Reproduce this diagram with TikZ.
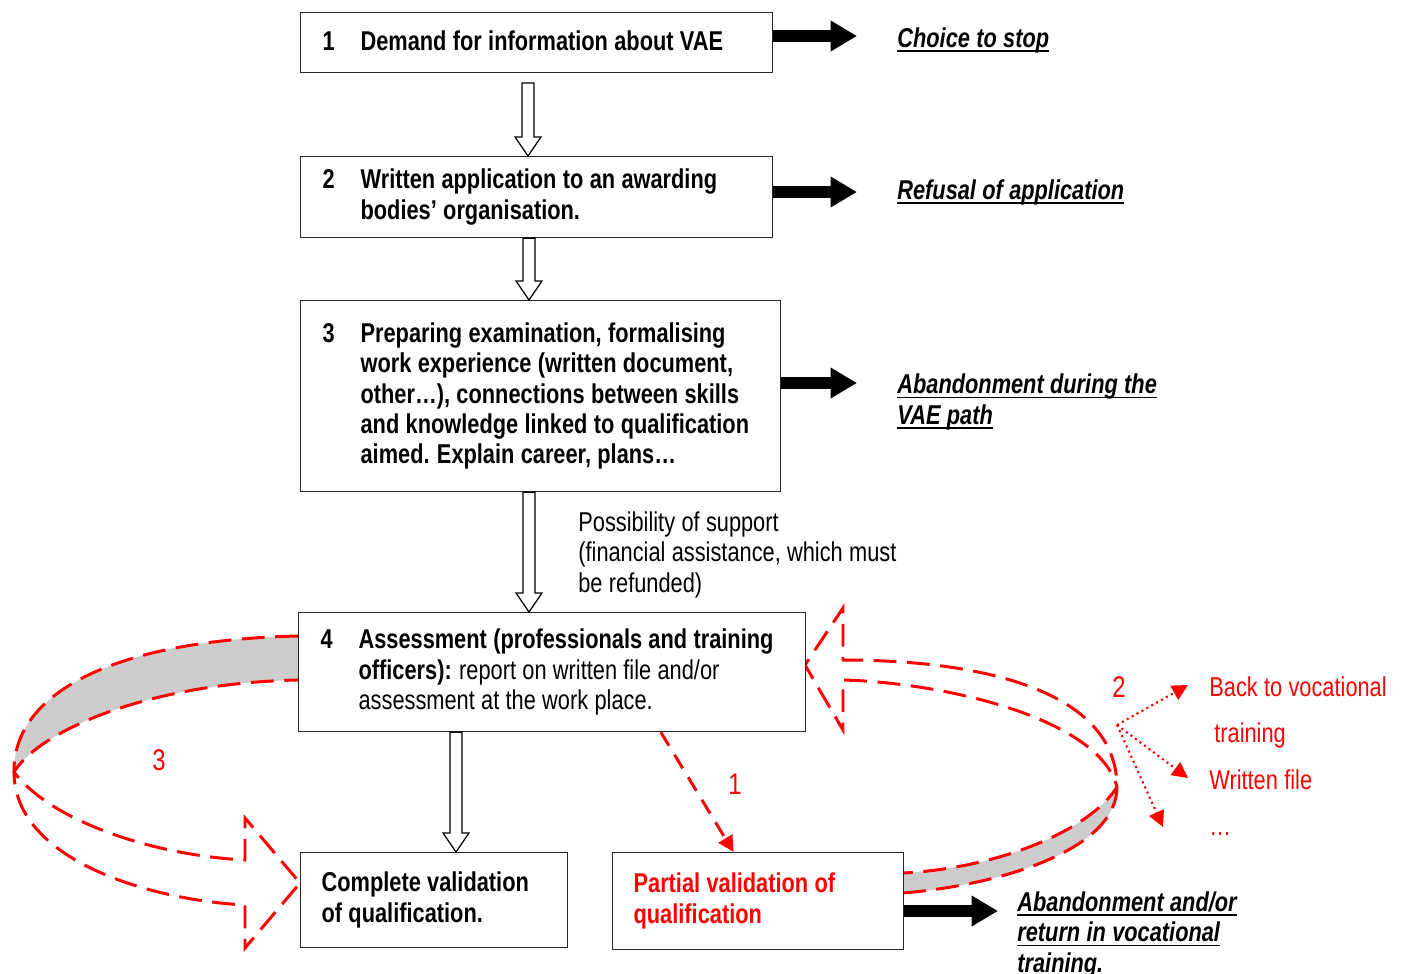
\documentclass[tikz,border=0pt]{standalone}
\usepackage{fontspec}
\setmainfont{Liberation Sans}[FakeStretch=0.8]
\newfontfamily\stepfont{Liberation Sans Bold}[FakeStretch=0.8]
\newfontfamily\outfont{Liberation Sans Bold Italic}[FakeStretch=0.8]
\usetikzlibrary{arrows.meta,calc}

\newcommand{\bodyfont}{\fontsize{15.5}{17.3}\selectfont\spaceskip=3.6pt\relax}
\newsavebox{\ulbox}
\newcommand{\ulabel}[1]{\sbox{\ulbox}{#1}\rlap{\rule[-2.6pt]{\wd\ulbox}{0.9pt}}\usebox{\ulbox}}
\newcommand{\steptext}[2]{\makebox[0.76cm][l]{#1}\parbox[t]{\dimexpr\linewidth-0.76cm\relax}{\spaceskip=3.6pt\xspaceskip=4.2pt\relax #2}}
% hollow block arrow pointing down, from #1 (top) to #2 (tip)
\newcommand{\hollowdown}[2]{\draw[hollow] ($(#1)+(-6,0)$) -- ($(#2)+(-6,-19)$) -- ($(#2)+(-13,-19)$) -- (#2) -- ($(#2)+(13,-19)$) -- ($(#2)+(6,-19)$) -- ($(#1)+(6,0)$) -- cycle;}

\begin{document}
\begin{tikzpicture}[x=0.02cm, y=-0.02cm,
	font=\bodyfont,
	stepbox/.style={draw=black!85, line width=0.7pt, fill=white, anchor=north west, inner xsep=0.44cm, inner ysep=0pt},
	outcome/.style={anchor=base west, align=left, inner sep=0pt, font=\bodyfont\outfont},
	redtext/.style={text=red, anchor=base west, inner sep=0pt},
	bignum/.style={text=red, font=\fontsize{17}{20}\selectfont},
	quitarrow/.style={line width=6.8pt, -{Triangle[length=15pt,width=16.5pt]}},
	hollow/.style={draw=black, line width=0.7pt, fill=white},
	loopband/.style={draw=red, line width=1.7pt, dash pattern=on 13pt off 6pt},
	loopfill/.style={fill=black!20},
	redarrow/.style={draw=red, line width=1.7pt, dash pattern=on 9pt off 6pt, -{Triangle[length=9pt,width=9pt]}},
	dotarrow/.style={draw=red, line width=1.2pt, dotted, -{Triangle[length=9pt,width=9pt]}}]
	\useasboundingbox (0,0) rectangle (1401,974);

	% loop 3: back to assessment, then complete validation
	\fill[loopfill] (298,636) .. controls (120,640) and (13,690) .. (14,772) .. controls (40,730) and (150,683) .. (298,680) -- cycle;
	\draw[loopband] (298,636) .. controls (120,640) and (13,690) .. (14,772) .. controls (14,860) and (150,900) .. (245,905) -- (245,948) -- (300,883) -- (245,818) -- (245,860) .. controls (150,855) and (50,820) .. (14,772) .. controls (40,730) and (150,683) .. (298,680);
	% loop 2: from partial validation back to assessment
	\fill[loopfill] (903,893) .. controls (1000,885) and (1117,850) .. (1117,787) .. controls (1090,830) and (1000,868) .. (903,873) -- cycle;
	\draw[loopband] (903,893) .. controls (1000,885) and (1117,850) .. (1117,787) .. controls (1117,690) and (980,660) .. (843,660) -- (843,608) -- (805,665) -- (843,730) -- (843,680) .. controls (950,683) and (1100,720) .. (1117,787) .. controls (1090,830) and (1000,868) .. (903,873);

	% steps
	\node[stepbox, minimum height=1.2cm, text width=8.56cm, font=\bodyfont\stepfont] (box1) at (300,12) {\raisebox{2pt}{\steptext{1}{Demand for information about VAE}}};
	\node[stepbox, minimum height=1.62cm, text width=8.56cm, font=\bodyfont\stepfont] (box2) at (300,156) {\steptext{2}{Written application to an awarding\\bodies’ organisation.}};
	\node[stepbox, minimum height=3.82cm, text width=8.72cm, font=\bodyfont\stepfont] (box3) at (300,300) {\raisebox{3pt}{\steptext{3}{Preparing examination, formalising\\work experience (written document,\\other…), connections between skills\\and knowledge linked to qualification\\aimed. Explain career, plans…}}};
	\node[stepbox, minimum height=2.38cm, text width=9.26cm] (box4) at (298,612) {\steptext{\stepfont 4}{{\stepfont Assessment (professionals and training\\officers):} report on written file and/or\\assessment at the work place.}};
	\node[stepbox, minimum height=1.9cm, text width=4.5cm, inner xsep=0.42cm, font=\bodyfont\stepfont] (complete) at (300,852) {\spaceskip=3.6pt\relax Complete validation\\of qualification.};
	\node[stepbox, minimum height=1.94cm, text width=4.98cm, inner xsep=0.42cm, text=red, font=\bodyfont\stepfont] (part) at (612,852) {\spaceskip=3.6pt\relax Partial validation of\\qualification};

	% hollow arrows
	\coordinate (s12) at (528,83);
	\coordinate (t12) at (s12 |- box2.north);
	\hollowdown{s12}{t12}
	\coordinate (s23) at (box2.south -| 529,0);
	\coordinate (t23) at (s23 |- box3.north);
	\hollowdown{s23}{t23}
	\coordinate (s34) at (box3.south -| 529,0);
	\coordinate (t34) at (s34 |- box4.north);
	\hollowdown{s34}{t34}
	\coordinate (s45) at (box4.south -| 456,0);
	\coordinate (t45) at (s45 |- complete.north);
	\hollowdown{s45}{t45}

	\node[anchor=base west, align=left, inner sep=0pt] (support) at (578,592) {Possibility of support\\(financial assistance, which must\\be refunded)};

	% ways out
	\node[outcome] (stop) at (897,47) {\ulabel{Choice to stop}};
	\node[outcome] (refusal) at (897,199) {\ulabel{Refusal of application}};
	\node[outcome] (abandon) at (897,424) {\ulabel{Abandonment during the}\\\ulabel{VAE path}};
	\node[outcome] (retrain) at (1017,972) {\ulabel{Abandonment and/or}\\\ulabel{return in vocational}\\\ulabel{training.}};
	\coordinate (q1) at (857,36);
	\coordinate (q2) at (857,192);
	\coordinate (q3) at (857,383);
	\coordinate (q4) at (998,911);
	\draw[quitarrow] (box1.east |- q1) -- (q1);
	\draw[quitarrow] (box2.east |- q2) -- (q2);
	\draw[quitarrow] (box3.east |- q3) -- (q3);
	\draw[quitarrow] (part.east |- q4) -- (q4);

	% red paths
	\draw[redarrow] ($(box4.south west)!0.714!(box4.south east)$) -- ($(part.north west)!0.416!(part.north east)$);
	\node[bignum] (n1) at (735,784) {1};
	\node[bignum] (n2) at (1119,687) {2};
	\node[bignum] (n3) at (159,760) {3};
	\node[redtext] (back) at (1209,696) {Back to vocational};
	\node[redtext] (training) at (1214,742) {training};
	\node[redtext] (written) at (1209,789) {Written file};
	\node[redtext] (more) at (1209,835) {\dots};
	\coordinate (fork) at (1117,725);
	\draw[dotarrow] (fork) -- ($(back.base west)+(-21,-11)$);
	\draw[dotarrow] (fork) -- ($(written.base west)+(-21,-11)$);
	\draw[dotarrow] (fork) -- ($(more.base west)+(-46,-8)$);
\end{tikzpicture}
\end{document}
